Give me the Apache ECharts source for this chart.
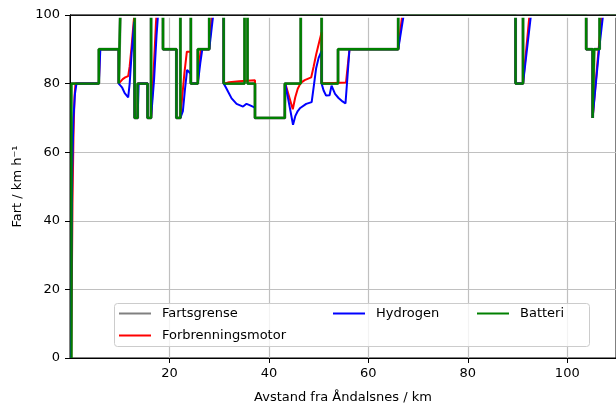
<!DOCTYPE html>
<html>
<head>
<meta charset="utf-8">
<script src="https://cdn.jsdelivr.net/npm/echarts@6/dist/echarts.min.js"></script>
<style>
html,body{margin:0;padding:0;background:#fff;}
#chart{width:616px;height:407px;}
</style>
</head>
<body>
<div id="chart"></div>
<script>
// ---- data (km, km/h) ----
const xTicks = [20, 40, 60, 80, 100];
const yTicks = [0, 20, 40, 60, 80, 100];

// Fartsgrense: step-post change points
const fartsKm    = [0.2, 5.8, 9.8, 10.1, 13.0, 13.6, 15.6, 16.3, 18.7, 21.4, 22.2, 24.3, 25.7, 28.0, 30.9, 35.1, 35.7, 37.2, 43.2, 46.4, 50.6, 53.9, 66.0, 89.6, 91.1, 103.8, 105.1, 105.4, 106.5, 109.8];
const fartsSpeed = [80,  90,  80,  100,  70,   80,   70,   100,  90,   70,   100,  80,   90,   100,  80,   100,  80,   70,   80,   100,  80,   90,   100,  80,   100,  90,    70,    90,    100,   100];

// Batteri: follows the limit (step-post)
const batteriKm    = [0.3, 0.3, 5.8, 9.8, 10.1, 13.0, 13.6, 15.6, 16.3, 18.7, 21.4, 22.2, 24.3, 25.7, 28.0, 30.9, 35.1, 35.7, 37.2, 43.2, 46.4, 50.6, 53.9, 66.0, 89.6, 91.1, 103.8, 105.1, 105.4, 106.5, 109.8];
const batteriSpeed = [0,   80,  90,  80,  100,  70,   80,   70,   100,  90,   70,   100,  80,   90,   100,  80,   100,  80,   70,   80,   100,  80,   90,   100,  80,   100,  90,    70,    90,    100,   100];

// Forbrenningsmotor
const forbrKm = [0.25, 0.5, 0.7, 0.9, 1.1, 5.8, 6.0, 9.8, 9.8, 10.1, 10.6, 11.1, 11.7, 12.0, 12.4, 12.8, 12.95, 13.0, 13.0, 13.6, 13.7, 15.6, 15.6, 16.3, 16.8, 17.3, 17.4, 18.7, 18.7, 21.4, 21.4, 22.2, 22.5, 23.0, 23.5, 24.3, 24.3, 25.7, 26.0, 26.3, 28.0, 28.3, 28.6, 30.9, 30.9, 32.0, 34.0, 37.2, 37.2, 43.2, 43.3, 43.45, 44.8, 45.3, 45.8, 46.4, 47.2, 48.5, 49.0, 49.5, 50.0, 50.6, 50.6, 55.5, 56.2, 66.0, 66.8, 89.6, 89.6, 91.1, 92.4, 103.8, 103.8, 105.1, 105.1, 105.4, 106.3, 106.5, 107.0, 109.8];
const forbrSpeed = [0,  45,  65,  76,  80,  80,  90,  90,  80,  80,   81.3, 81.8, 82.2, 85,   91,   98,   100,   100,  70,   70,   80,   80,   70,   70,   83,   98,   100,  100,  90,   90,   70,   70,   75,   83,   89.3, 89.3, 80,   80,   86,   90,   90,   96,   100,  100,  80,   80.4, 80.7, 81,   70,   70,   80,   80,    72.5, 76,   78.5, 80.2, 81,   81.8, 85,   88.5, 91.5, 95,   80,   80.3, 90,   90,   100,  100,  80,   80,   100,  100,   90,    90,    70,    70,    90,    90,    100,   100];

// Hydrogen
const hydroKm = [0.2, 0.3, 0.45, 0.7, 1.0, 1.3, 5.8, 6.1, 9.8, 9.8, 10.1, 10.5, 11.0, 11.7, 12.0, 12.4, 12.9, 13.0, 13.0, 13.6, 13.8, 15.6, 15.6, 16.3, 16.9, 17.4, 17.7, 18.7, 18.7, 21.4, 21.4, 22.2, 22.7, 23.1, 23.55, 24.3, 24.3, 25.7, 26.2, 26.6, 28.0, 28.4, 28.8, 30.9, 30.9, 31.3, 31.8, 32.5, 33.5, 34.8, 35.5, 36.0, 37.2, 37.2, 43.2, 43.3, 43.45, 44.85, 45.3, 45.8, 46.3, 47.5, 48.6, 49.0, 49.5, 50.0, 50.6, 50.6, 51.0, 51.5, 52.2, 52.6, 52.9, 53.3, 54.0, 54.8, 55.4, 55.8, 56.2, 66.0, 67.1, 89.6, 89.6, 91.1, 92.7, 103.8, 103.8, 105.1, 105.1, 105.4, 106.4, 106.5, 107.2, 109.8];
const hydroSpeed = [0, 30,  55,   70,  77,  80,  80,  90,  90,  80,  80,   78.8, 77.2, 76,   80,   89,   98,   98,   70,   70,   80,   80,   70,   70,   81,   94,   100,  100,  90,   90,   70,   70,   72,   78,   84,    82.8, 80,   80,   86,   90,   90,   95,   100,  100,  80,   79,   77.6, 75.7, 74.1, 73.3, 74.1, 73.8, 73.0, 70,   70,   80,   80,    68,    70.5, 72,   72.9, 74.1, 74.6, 79,   84.5, 87.5, 89.5, 80,   78,   76.5, 76.6, 79.4, 79.2, 77,   75.8, 74.8, 74.2, 82,   90,   90,   100,  100,  80,   80,   100,  100,   90,    90,    70,    70,    90,    90,    100,   100];

const names = ['Fartsgrense', 'Forbrenningsmotor', 'Hydrogen', 'Batteri'];
const colors = ['#808080', '#ff0000', '#0000ff', '#008000'];

function zip(a, b) { return a.map((v, i) => [v, b[i]]); }

const FONT = 'DejaVu Sans';
const chart = echarts.init(document.getElementById('chart'), null, {renderer: 'canvas'});

function legendAt(name, left, top) {
  return {
    data: [name], left: left, top: top, padding: 0,
    icon: 'rect', itemWidth: 32, itemHeight: 2,
    selectedMode: false, z: 10,
    textStyle: {fontFamily: FONT, fontSize: 13, color: '#000', padding: [0, 0, 0, 6]}
  };
}

chart.setOption({
  animation: false,
  backgroundColor: '#fff',
  color: colors,
  grid: {left: 70, right: 0, top: 15, bottom: 49, outerBoundsMode: 'none', containLabel: false,
         show: true, borderColor: '#000', borderWidth: 1, backgroundColor: 'transparent'},
  xAxis: {
    type: 'value', min: 0, max: 109.8, interval: 20,
    name: 'Avstand fra Åndalsnes / km', nameLocation: 'middle', nameGap: 33,
    nameTextStyle: {fontFamily: FONT, fontSize: 13, color: '#000'},
    axisLine: {onZero: false, lineStyle: {color: '#000', width: 1}},
    axisTick: {show: true, length: 5, customValues: xTicks, lineStyle: {color: '#000'}},
    axisLabel: {customValues: xTicks, margin: 9, fontFamily: FONT, fontSize: 13, color: '#000'},
    splitLine: {show: true, lineStyle: {color: '#c0c0c0', width: 1.2}}
  },
  yAxis: {
    type: 'value', min: 0, max: 100, interval: 20,
    name: 'Fart / km h⁻¹', nameLocation: 'middle', nameGap: 44,
    nameTextStyle: {fontFamily: FONT, fontSize: 13, color: '#000'},
    axisLine: {show: true, lineStyle: {color: '#000', width: 1}},
    axisTick: {show: true, length: 5, lineStyle: {color: '#000'}},
    axisLabel: {margin: 10, fontFamily: FONT, fontSize: 13, color: '#000'},
    splitLine: {show: true, lineStyle: {color: '#c0c0c0', width: 1.2}}
  },
  legend: [
    legendAt(names[0], 119, 307),
    legendAt(names[1], 119, 329),
    legendAt(names[2], 333, 307),
    legendAt(names[3], 477, 307)
  ],
  graphic: [{
    type: 'rect', z: 9,
    shape: {x: 114.5, y: 303.5, width: 475, height: 43, r: 3},
    style: {fill: 'rgba(255,255,255,0.8)', stroke: '#cccccc', lineWidth: 1}
  }, {
    type: 'rect', zlevel: 1, z: 18,
    shape: {x: 71, y: 8, width: 545, height: 6.6},
    style: {fill: '#ffffff'}
  }, {
    type: 'line', zlevel: 1, z: 19,
    shape: {x1: 71, y1: 16.8, x2: 616, y2: 16.8},
    style: {stroke: '#ffffff', lineWidth: 2}
  }, {
    type: 'line', zlevel: 1, z: 20,
    shape: {x1: 70, y1: 15.2, x2: 616, y2: 15.2},
    style: {stroke: '#111111', lineWidth: 1.6}
  }],
  series: [
    {name: names[0], type: 'line', step: 'end', symbol: 'none', data: zip(fartsKm, fartsSpeed), lineStyle: {width: 3, color: colors[0]}, itemStyle: {color: colors[0]}},
    {name: names[1], type: 'line', symbol: 'none', data: zip(forbrKm, forbrSpeed), lineStyle: {width: 2, color: colors[1]}, itemStyle: {color: colors[1]}},
    {name: names[2], type: 'line', symbol: 'none', data: zip(hydroKm, hydroSpeed), lineStyle: {width: 2, color: colors[2]}, itemStyle: {color: colors[2]}},
    {name: names[3], type: 'line', step: 'end', symbol: 'none', data: zip(batteriKm, batteriSpeed), lineStyle: {width: 2.4, color: colors[3]}, itemStyle: {color: colors[3]}}
  ]
});
</script>
</body>
</html>
